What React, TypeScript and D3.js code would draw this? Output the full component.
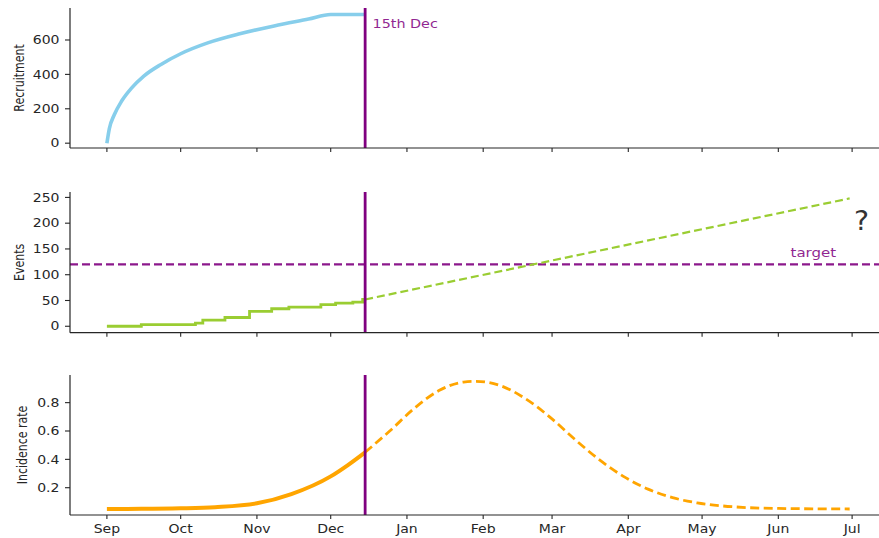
import React from 'react'
import * as d3 from 'd3'

const width = 879
const height = 538

const parse = d3.timeParse('%Y-%m-%d')

// recruitment (observed, up to 15th Dec)
const recruitDates = ['2020-09-01', '2020-09-02', '2020-09-04', '2020-09-07', '2020-09-11', '2020-09-16',
    '2020-09-23', '2020-10-01', '2020-10-12', '2020-10-25', '2020-11-08', '2020-11-22', '2020-12-01', '2020-12-15']
const recruitValues = [0, 85, 165, 245, 320, 390, 458, 520, 583, 636, 682, 722, 748, 748]

// cumulative events (step) and the projection
const eventDates = ['2020-09-01', '2020-09-15', '2020-10-07', '2020-10-10', '2020-10-19', '2020-10-29',
    '2020-11-07', '2020-11-14', '2020-11-27', '2020-12-03', '2020-12-10', '2020-12-14', '2020-12-15']
const eventValues = [0, 3, 6, 12, 17, 29, 34, 37, 42, 45, 47, 52, 52]
const projDates = ['2020-12-15', '2021-06-30']
const projValues = [52, 248]
const target = 120

// incidence rate, observed then projected
const incDates = ['2020-09-01', '2020-09-15', '2020-10-01', '2020-10-15', '2020-11-01', '2020-11-15',
    '2020-12-01', '2020-12-08', '2020-12-15']
const incValues = [0.05, 0.051, 0.055, 0.063, 0.09, 0.155, 0.28, 0.36, 0.45]
const incProjDates = ['2020-12-15', '2020-12-25', '2021-01-04', '2021-01-14', '2021-01-24', '2021-01-29',
    '2021-02-08', '2021-02-18', '2021-02-28', '2021-03-10', '2021-03-20', '2021-03-30', '2021-04-09',
    '2021-04-19', '2021-04-29', '2021-05-09', '2021-05-19', '2021-06-01', '2021-06-15', '2021-06-30']
const incProjValues = [0.45, 0.60, 0.76, 0.885, 0.945, 0.95, 0.92, 0.83, 0.70, 0.545, 0.40, 0.28, 0.19,
    0.13, 0.093, 0.072, 0.06, 0.054, 0.051, 0.05]

const cutoff = '2020-12-15'
const monthTicks = d3.timeMonth.range(parse('2020-09-01'), parse('2021-07-02'))

const ink = '#262626'
const purple = '#800080'

const x = d3.scaleTime()
    .domain([parse('2020-08-17'), parse('2021-07-16')])
    .range([70, 889])

const pts = (dates, values) => dates.map((d, i) => ({date: parse(d), value: values[i]}))

const panels = [
    {top: 8, bottom: 148, domain: [-28, 786], ticks: [0, 200, 400, 600], fmt: d => String(d), label: 'Recruitment', labelX: 23.5},
    {top: 192, bottom: 332.7, domain: [-12.5, 260.5], ticks: [0, 50, 100, 150, 200, 250], fmt: d => String(d), label: 'Events', labelX: 23.5},
    {top: 375, bottom: 515, domain: [0.0075, 0.995], ticks: [0.2, 0.4, 0.6, 0.8], fmt: d3.format('.1f'), label: 'Incidence rate', labelX: 26.5},
]

function Panel({p, showMonths, children}) {
    const y = d3.scaleLinear().domain(p.domain).range([p.bottom, p.top])
    const xc = x(parse(cutoff))
    return (
        <g>
            {children(y)}
            <line x1={xc} x2={xc} y1={p.top} y2={p.bottom} stroke={purple} strokeWidth={2.8} />
            {/* spines */}
            <line x1={70} x2={70} y1={p.top} y2={p.bottom} stroke={ink} strokeWidth={1.2} />
            <line x1={70} x2={width} y1={p.bottom} y2={p.bottom} stroke={ink} strokeWidth={1.2} />
            {p.ticks.map(t => (
                <g key={t}>
                    <line x1={65} x2={70} y1={y(t)} y2={y(t)} stroke={ink} strokeWidth={1.1} />
                    <text transform={`translate(59.5,${y(t)}) scale(1.22,1)`} textAnchor="end" dy="0.36em"
                          fontSize={11.5} fill={ink}>{p.fmt(t)}</text>
                </g>
            ))}
            {monthTicks.map(m => (
                <g key={+m}>
                    <line x1={x(m)} x2={x(m)} y1={p.bottom} y2={p.bottom + 4} stroke={ink} strokeWidth={1.1} />
                    {showMonths &&
                        <text transform={`translate(${x(m)},533) scale(1.22,1)`} textAnchor="middle"
                              fontSize={11.5} fill={ink}>{d3.timeFormat('%b')(m)}</text>}
                </g>
            ))}
            <text transform={`translate(${p.labelX},${(p.top + p.bottom) / 2}) scale(1.2,1) rotate(-90)`}
                  textAnchor="middle" fontSize={11} fill={ink}>{p.label}</text>
        </g>
    )
}

export default function App() {
    const line = (y, curve) => d3.line().x(d => x(d.date)).y(d => y(d.value)).curve(curve)

    return (
        <svg width={width} height={height} style={{position: 'absolute', left: 0, top: 0, background: '#fff'}}
             fontFamily="DejaVu Sans, sans-serif">
            <Panel p={panels[0]} showMonths={false}>
                {y => (
                    <g>
                        <path d={line(y, d3.curveMonotoneX)(pts(recruitDates, recruitValues))}
                              fill="none" stroke="#87CEEB" strokeWidth={3.6} />
                        <text transform={`translate(372.5,28.3) scale(1.25,1)`} fontSize={11.5}
                              fill={purple} opacity={0.85}>15th Dec</text>
                    </g>
                )}
            </Panel>
            <Panel p={panels[1]} showMonths={false}>
                {y => (
                    <g>
                        <line x1={70} x2={width} y1={y(target)} y2={y(target)} stroke={purple}
                              strokeWidth={2.2} strokeDasharray="8,4" opacity={0.9} />
                        <path d={line(y, d3.curveStepAfter)(pts(eventDates, eventValues))}
                              fill="none" stroke="#9ACD32" strokeWidth={2.8} />
                        <path d={line(y, d3.curveLinear)(pts(projDates, projValues))}
                              fill="none" stroke="#9ACD32" strokeWidth={2.2} strokeDasharray="8,4" />
                        <text transform={`translate(790.5,256.5) scale(1.2,1)`} fontSize={12.5}
                              fill={purple} opacity={0.85}>target</text>
                        <text transform={`translate(861.5,230) scale(1.05,1)`} textAnchor="middle"
                              fontSize={27} fill="#333">?</text>
                    </g>
                )}
            </Panel>
            <Panel p={panels[2]} showMonths={true}>
                {y => (
                    <g>
                        <path d={line(y, d3.curveMonotoneX)(pts(incDates, incValues))}
                              fill="none" stroke="#FFA500" strokeWidth={4} />
                        <path d={line(y, d3.curveMonotoneX)(pts(incProjDates, incProjValues))}
                              fill="none" stroke="#FFA500" strokeWidth={2.8} strokeDasharray="9,4.5" />
                    </g>
                )}
            </Panel>
        </svg>
    )
}
